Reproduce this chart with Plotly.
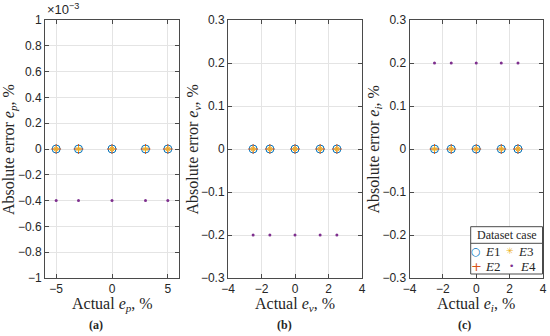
import plotly.graph_objects as go

W, H = 550, 336

# ---------------- data ----------------
# (a) power error
x_ep = [-5, -3, 0, 3, 5]
ep_E1 = [0, 0, 0, 0, 0]
ep_E2 = [0, 0, 0, 0, 0]
ep_E3 = [0, 0, 0, 0, 0]
ep_E4 = [-0.0004, -0.0004, -0.0004, -0.0004, -0.0004]
# (b) voltage error
x_ev = [-2.5, -1.5, 0, 1.5, 2.5]
ev_E1 = [0, 0, 0, 0, 0]
ev_E2 = [0, 0, 0, 0, 0]
ev_E3 = [0, 0, 0, 0, 0]
ev_E4 = [-0.2, -0.2, -0.2, -0.2, -0.2]
# (c) current error
x_ei = [-2.5, -1.5, 0, 1.5, 2.5]
ei_E1 = [0, 0, 0, 0, 0]
ei_E2 = [0, 0, 0, 0, 0]
ei_E3 = [0, 0, 0, 0, 0]
ei_E4 = [0.2, 0.2, 0.2, 0.2, 0.2]

ya_tickvals = [-0.001, -0.0008, -0.0006, -0.0004, -0.0002, 0, 0.0002, 0.0004, 0.0006, 0.0008, 0.001]
ya_ticktext = ["\u22121", "\u22120.8", "\u22120.6", "\u22120.4", "\u22120.2", "0", "0.2", "0.4", "0.6", "0.8", "1"]
xa_tickvals = [-5, 0, 5]

series_names = ["E1", "E2", "E3", "E4"]
colors = {"E1": "#0072BD", "E2": "#D95319", "E3": "#EDB120", "E4": "#7E2F8E"}

# ---------------- figure ----------------
def px(x, y):
    return x / W, 1 - y / H

fig = go.Figure()

panels = [
    ("x", "y", x_ep, [ep_E1, ep_E2, ep_E3, ep_E4]),
    ("x2", "y2", x_ev, [ev_E1, ev_E2, ev_E3, ev_E4]),
    ("x3", "y3", x_ei, [ei_E1, ei_E2, ei_E3, ei_E4]),
]

marker_styles = {
    "E1": dict(symbol="circle-open", size=8, line=dict(width=1, color=colors["E1"]), color=colors["E1"]),
    "E2": dict(symbol="cross-thin-open", size=7, line=dict(width=1, color=colors["E2"]), color=colors["E2"]),
    "E3": dict(symbol="asterisk-open", size=5, line=dict(width=1, color=colors["E3"]), color=colors["E3"]),
    "E4": dict(symbol="circle", size=3, color=colors["E4"], line=dict(width=0)),
}

for xr, yr, xs, ys_list in panels:
    for name, ys in zip(series_names, ys_list):
        fig.add_trace(go.Scatter(x=xs, y=ys, mode="markers", name=name,
                                 marker=marker_styles[name], xaxis=xr, yaxis=yr,
                                 showlegend=False))

line_col = "#4a4a4a"
tick_font = dict(family="Liberation Sans, Arial, sans-serif", size=12, color="#262626")
common = dict(showline=True, linecolor=line_col, linewidth=1, mirror="allticks",
              ticks="inside", ticklen=4, tickwidth=1, tickcolor=line_col,
              showgrid=True, gridcolor="#e4e4e4", gridwidth=1, zeroline=False,
              tickfont=tick_font, automargin=False)

ydom = [1 - 278 / H, 1 - 20 / H]
xdoms = [[45 / W, 179 / W], [228 / W, 362 / W], [409.5 / W, 543 / W]]

fig.update_layout(
    template="none",
    width=W, height=H,
    margin=dict(l=0, r=0, t=0, b=0),
    paper_bgcolor="white", plot_bgcolor="white",
    showlegend=False,
    xaxis=dict(domain=xdoms[0], range=[-6, 6], tickvals=xa_tickvals, anchor="y", **common),
    yaxis=dict(domain=ydom, range=[-0.001, 0.001], tickvals=ya_tickvals, ticktext=ya_ticktext, anchor="x", **common),
    xaxis2=dict(domain=xdoms[1], range=[-4, 4], dtick=2, anchor="y2", **common),
    yaxis2=dict(domain=ydom, range=[-0.3, 0.3], dtick=0.1, anchor="x2", **common),
    xaxis3=dict(domain=xdoms[2], range=[-4, 4], dtick=2, anchor="y3", **common),
    yaxis3=dict(domain=ydom, range=[-0.3, 0.3], dtick=0.1, anchor="x3", **common),
)

serif = "Liberation Serif, DejaVu Serif, serif"
ann = []

def add_text(x, y, text, size=16, family=serif, color="#262626", angle=0,
             xanchor="center", yanchor="middle"):
    xp, yp = px(x, y)
    ann.append(dict(x=xp, y=yp, xref="paper", yref="paper", text=text, showarrow=False,
                    font=dict(family=family, size=size, color=color), textangle=angle,
                    xanchor=xanchor, yanchor=yanchor))

# axis titles
add_text(112, 304, "Actual <i>e</i><sub><i>p</i></sub>, %")
add_text(295, 304, "Actual <i>e</i><sub><i>v</i></sub>, %")
add_text(476, 304, "Actual <i>e</i><sub><i>i</i></sub>, %")
add_text(9, 150, "Absolute error <i>e</i><sub><i>p</i></sub>, %", angle=-90)
add_text(192.5, 150, "Absolute error <i>e</i><sub><i>v</i></sub>, %", angle=-90)
add_text(373.5, 150, "Absolute error <i>e</i><sub><i>i</i></sub>, %", angle=-90)
# panel labels
add_text(96, 325, "<b>(a)</b>", size=12)
add_text(284, 325, "<b>(b)</b>", size=12)
add_text(464, 325, "<b>(c)</b>", size=12)
# exponent
add_text(45, 19, "\u00d710<sup>\u22123</sup>", size=13, family="Liberation Sans, Arial, sans-serif",
         xanchor="left", yanchor="bottom")

# legend (manual)
lx0, lx1, ly0, ly1, lsep = 470.7, 542.5, 226.7, 274, 243.3
x0p, y0p = px(lx0, ly0)
x1p, y1p = px(lx1, ly1)
shapes = [
    dict(type="rect", xref="paper", yref="paper", x0=x0p, x1=x1p, y0=y1p, y1=y0p,
         line=dict(color=line_col, width=1), fillcolor="white", layer="above"),
    dict(type="line", xref="paper", yref="paper", x0=x0p, x1=x1p, y0=px(0, lsep)[1], y1=px(0, lsep)[1],
         line=dict(color=line_col, width=1), layer="above"),
]
add_text(506.5, 235, "Dataset case", size=12)
add_text(475.5, 251, "\u25cb", size=11, family="DejaVu Sans", color=colors["E1"])
add_text(476.5, 266, "+", size=13, family="DejaVu Sans", color=colors["E2"])
add_text(509.5, 251, "\u2733", size=9, family="DejaVu Sans", color=colors["E3"])
add_text(511, 266, "\u2022", size=9, family="DejaVu Sans", color=colors["E4"])
add_text(482.5, 251, "<i>E</i>1", size=13, xanchor="left")
add_text(482.5, 266, "<i>E</i>2", size=13, xanchor="left")
add_text(516, 251, "<i>E</i>3", size=13, xanchor="left")
add_text(517.5, 266, "<i>E</i>4", size=13, xanchor="left")

fig.update_layout(annotations=ann, shapes=shapes)
fig.write_html("out.html", config={"displayModeBar": False},
               post_script="document.body.style.margin='0px';document.body.style.overflow='hidden';")
